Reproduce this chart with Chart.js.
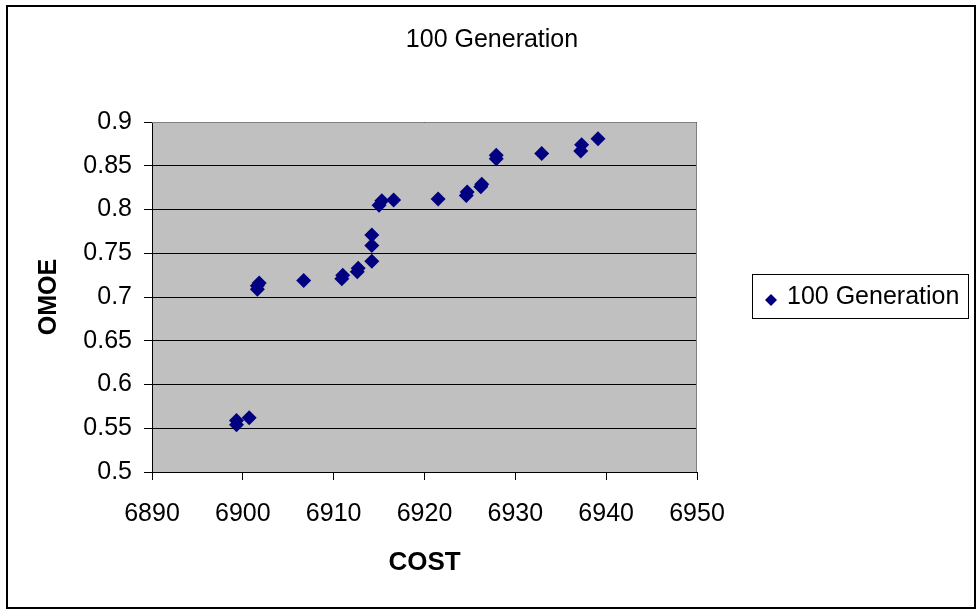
<!DOCTYPE html>
<html>
<head>
<meta charset="utf-8">
<title>100 Generation</title>
<script src="https://cdn.jsdelivr.net/npm/chart.js@4.4.1/dist/chart.umd.min.js"></script>
<style>
  body { margin: 0; background: #fff; }
  #wrap { width: 978px; height: 610px; }
</style>
</head>
<body>
<div id="wrap"><canvas id="grafico" width="978" height="610"></canvas></div>
<script>
// DATOS

const seriesName = "100 Generation";
const chartTitle = "100 Generation";
const xTitle = "COST";
const yTitle = "OMOE";

const costValues = [6899.3, 6899.3, 6900.7, 6901.6, 6901.6, 6901.8, 6906.7, 6910.9, 6911.0, 6912.6,
                    6912.7, 6914.2, 6914.2, 6914.2, 6915.0, 6915.3, 6916.6, 6921.5, 6924.6, 6924.7,
                    6926.2, 6926.3, 6927.9, 6927.9, 6932.9, 6937.2, 6937.3, 6939.1];
const omoeValues = [0.554, 0.559, 0.562, 0.709, 0.713, 0.716, 0.719, 0.721, 0.725, 0.729,
                    0.733, 0.741, 0.759, 0.771, 0.805, 0.810, 0.811, 0.812, 0.816, 0.820,
                    0.826, 0.829, 0.858, 0.862, 0.864, 0.867, 0.874, 0.881];

const xTicks = [6890, 6900, 6910, 6920, 6930, 6940, 6950];
const yTicks = [0.5, 0.55, 0.6, 0.65, 0.7, 0.75, 0.8, 0.85, 0.9];

const FUENTE = '"Liberation Sans", Arial, sans-serif';
const AZUL = "#000080";


// FONDO, MARCO, TITULO Y LEYENDA (estilo Excel)

const marcoExcel = {
    id: "marcoExcel",
    beforeDraw(chart) {
        const ctx = chart.ctx;
        const a = chart.chartArea;
        ctx.save();
        ctx.fillStyle = "#fff";
        ctx.fillRect(0, 0, chart.width, chart.height);
        ctx.fillStyle = "#c0c0c0";
        ctx.fillRect(a.left, a.top, a.right - a.left, a.bottom - a.top);
        ctx.restore();
    },
    afterDraw(chart) {
        const ctx = chart.ctx;
        const a = chart.chartArea;
        ctx.save();

        // borde gris arriba y a la derecha del area
        ctx.strokeStyle = "#808080";
        ctx.lineWidth = 1;
        ctx.beginPath();
        ctx.moveTo(a.left, a.top + 0.5);
        ctx.lineTo(a.right - 0.5, a.top + 0.5);
        ctx.lineTo(a.right - 0.5, a.bottom);
        ctx.stroke();

        // marco exterior
        ctx.strokeStyle = "#000";
        ctx.lineWidth = 2;
        ctx.strokeRect(7, 6, 968, 602);

        // titulo
        ctx.fillStyle = "#000";
        ctx.font = "25px " + FUENTE;
        ctx.textAlign = "center";
        ctx.textBaseline = "middle";
        ctx.fillText(chartTitle, 492, 40);

        // leyenda
        ctx.lineWidth = 1;
        ctx.strokeRect(752.5, 274.5, 216, 44);
        ctx.fillStyle = AZUL;
        ctx.beginPath();
        ctx.moveTo(771, 294);
        ctx.lineTo(777, 300);
        ctx.lineTo(771, 306);
        ctx.lineTo(765, 300);
        ctx.closePath();
        ctx.fill();
        ctx.fillStyle = "#000";
        ctx.textAlign = "left";
        ctx.fillText(chart.data.datasets[0].label, 787, 297);

        ctx.restore();
    }
};


// GRAFICO

function cargaGraficoDispersion() {
    const puntos = costValues.map(function (c, i) {
        return { x: c, y: omoeValues[i] };
    });

    new Chart(document.getElementById("grafico"), {
        type: "scatter",
        data: {
            datasets: [{
                label: seriesName,
                data: puntos,
                pointStyle: "rectRot",
                pointRadius: 7.5,
                pointHoverRadius: 7.5,
                backgroundColor: AZUL,
                borderColor: AZUL,
                borderWidth: 0
            }]
        },
        options: {
            responsive: false,
            animation: false,
            layout: { padding: { left: 0, top: 122, right: 281, bottom: 0 } },
            plugins: {
                legend: { display: false },
                title: { display: false },
                tooltip: { enabled: false }
            },
            scales: {
                x: {
                    type: "linear",
                    min: xTicks[0],
                    max: xTicks[xTicks.length - 1],
                    afterFit: function (s) { s.height = 138; },
                    afterBuildTicks: function (s) {
                        s.ticks = xTicks.map(function (v) { return { value: v }; });
                    },
                    grid: { drawOnChartArea: false, color: "#000", tickLength: 8 },
                    border: { color: "#000", width: 1 },
                    ticks: {
                        color: "#000",
                        padding: 19,
                        maxRotation: 0,
                        font: { family: FUENTE, size: 25 },
                        callback: function (v) { return String(v); }
                    },
                    title: {
                        display: true,
                        text: xTitle,
                        color: "#000",
                        font: { family: FUENTE, size: 26, weight: "bold" },
                        padding: { top: 0, bottom: 32 }
                    }
                },
                y: {
                    type: "linear",
                    min: yTicks[0],
                    max: yTicks[yTicks.length - 1],
                    afterFit: function (s) { s.width = 152; },
                    afterBuildTicks: function (s) {
                        s.ticks = yTicks.map(function (v) { return { value: v }; });
                    },
                    grid: { color: "#000", tickLength: 8 },
                    border: { color: "#000", width: 1 },
                    ticks: {
                        color: "#000",
                        padding: 12,
                        font: { family: FUENTE, size: 25 },
                        callback: function (v) { return String(+v.toFixed(2)); }
                    },
                    title: {
                        display: true,
                        text: yTitle,
                        color: "#000",
                        font: { family: FUENTE, size: 25, weight: "bold" },
                        padding: { top: 34, bottom: 0 }
                    }
                }
            }
        },
        plugins: [marcoExcel]
    });
}

cargaGraficoDispersion();
</script>
</body>
</html>
